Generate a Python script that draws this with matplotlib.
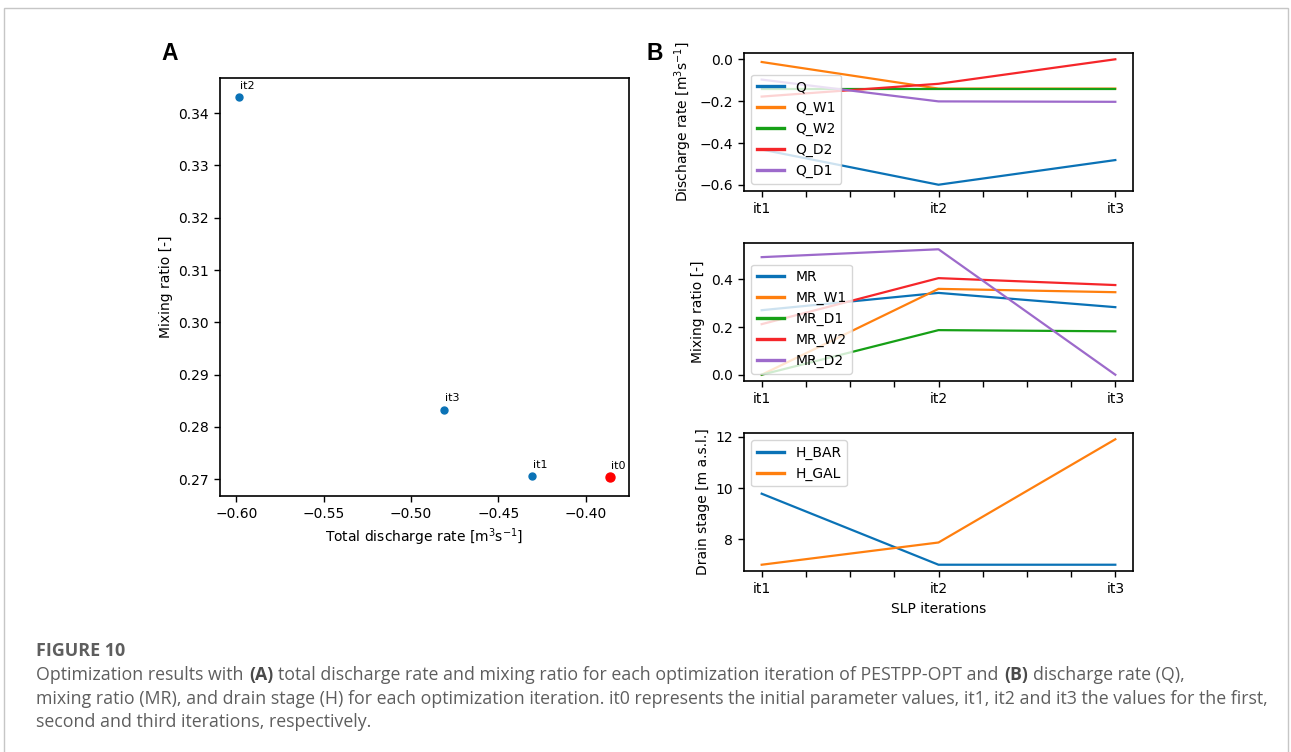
import matplotlib
matplotlib.use("Agg")
import matplotlib.pyplot as plt
from matplotlib.ticker import MultipleLocator
from matplotlib.patches import Rectangle

plt.rcParams['font.family'] = ['DejaVu Sans']
plt.rcParams['font.size'] = 10

# --- data -------------------------------------------------------------
# panel A: total discharge vs mixing ratio per iteration
it_labels = ['it0', 'it1', 'it2', 'it3']
total_q = [-0.3859, -0.4307, -0.5987, -0.4810]
total_mr = [0.2704, 0.2706, 0.3431, 0.2833]

# panel B
iterations = ['it1', 'it2', 'it3']
q_names = ['Q', 'Q_W1', 'Q_W2', 'Q_D2', 'Q_D1']
q_vals = [
    [-0.4307, -0.5987, -0.4810],
    [-0.013, -0.140, -0.140],
    [-0.140, -0.140, -0.140],
    [-0.178, -0.117, 0.000],
    [-0.097, -0.201, -0.203],
]
mr_names = ['MR', 'MR_W1', 'MR_D1', 'MR_W2', 'MR_D2']
mr_vals = [
    [0.2706, 0.3431, 0.2833],
    [0.000, 0.360, 0.346],
    [0.000, 0.187, 0.182],
    [0.212, 0.405, 0.376],
    [0.493, 0.526, 0.000],
]
h_names = ['H_BAR', 'H_GAL']
h_vals = [
    [9.78, 7.00, 7.00],
    [7.00, 7.87, 11.91],
]

colors = ['#0a72b6', '#ff7f0e', '#16a016', '#f5262a', '#9d6acb']

caption_title = 'FIGURE 10'
caption_lines = [
    [('Optimization results with', 'normal'), ('(A)', 'bold'),
     ('total discharge rate and mixing ratio for each optimization iteration of PESTPP-OPT and', 'normal'),
     ('(B)', 'bold'), ('discharge rate (Q),', 'normal')],
    [('mixing ratio (MR), and drain stage (H) for each optimization iteration. it0 represents the '
      'initial parameter values, it1, it2 and it3 the values for the first,', 'normal')],
    [('second and third iterations, respectively.', 'normal')],
]

W, H = 1291, 752
fig = plt.figure(figsize=(W / 100, H / 100), dpi=100)


def px_axes(left, top, right, bottom):
    return fig.add_axes([left / W, 1 - bottom / H, (right - left) / W, (bottom - top) / H])


def style(ax):
    for sp in ax.spines.values():
        sp.set_linewidth(1.2)
    ax.tick_params(width=1.0, length=4.5)


# --- panel A ----------------------------------------------------------
axA = px_axes(220, 78, 629, 496)
axA.scatter(total_q[1:], total_mr[1:], s=25, color=colors[0], zorder=3)
axA.scatter(total_q[:1], total_mr[:1], s=42, color='#ff0000', zorder=3)
for lab, x, y in zip(it_labels, total_q, total_mr):
    axA.annotate(lab, (x, y), xytext=(0.7, 4.5), textcoords='offset points',
                 fontsize=8, ha='left', va='bottom')
axA.set_xticks([-0.60, -0.55, -0.50, -0.45, -0.40])
axA.set_yticks([0.27, 0.28, 0.29, 0.30, 0.31, 0.32, 0.33, 0.34])
axA.set_xlabel('Total discharge rate [m$^3$s$^{-1}$]')
axA.set_ylabel('Mixing ratio [-]')
style(axA)

# --- panel B ----------------------------------------------------------
xs = list(range(len(iterations)))
axQ = px_axes(744, 53, 1133, 191)
axM = px_axes(744, 243, 1133, 381)
axH = px_axes(744, 433, 1133, 571)

for name, vals, c in zip(q_names, q_vals, colors):
    axQ.plot(xs, vals, color=c, lw=1.6, label=name)
for name, vals, c in zip(mr_names, mr_vals, colors):
    axM.plot(xs, vals, color=c, lw=1.6, label=name)
for name, vals, c in zip(h_names, h_vals, colors):
    axH.plot(xs, vals, color=c, lw=1.6, label=name)

axQ.set_ylabel('Discharge rate [m$^3$s$^{-1}$]')
axM.set_ylabel('Mixing ratio [-]')
axH.set_ylabel('Drain stage [m a.s.l.]')
axH.set_xlabel('SLP iterations')
axQ.set_yticks([-0.6, -0.4, -0.2, 0.0])
axM.set_yticks([0.0, 0.2, 0.4])
axH.set_yticks([8, 10, 12])

for ax, loc in ((axQ, 'lower left'), (axM, 'lower left'), (axH, 'upper left')):
    leg = ax.legend(loc=loc)
    for ln in leg.get_lines():
        ln.set_linewidth(2.4)
    ax.set_xticks(xs, iterations)
    ax.xaxis.set_minor_locator(MultipleLocator(0.25))
    style(ax)
    ax.tick_params(which='minor', width=1.0, length=4.5)

# panel letters
fig.text(161 / W, 1 - 59.5 / H, 'A', fontsize=16.5, fontweight='bold',
         family=['Liberation Sans'], ha='left', va='baseline')
fig.text(647 / W, 1 - 59.5 / H, 'B', fontsize=16.5, fontweight='bold',
         family=['Liberation Sans'], ha='left', va='baseline')

# page frame
fig.patches.append(Rectangle((4 / W, -0.02), 1284 / W, 1 - 8 / H + 0.02,
                             transform=fig.transFigure, fill=False,
                             edgecolor='#c6c6c6', linewidth=1.0))

# caption
cap_font = ['Open Sans', 'DejaVu Sans']
cap_size = 12.75
fig.text(36 / W, 1 - 656 / H, caption_title, fontsize=12.9, fontweight='bold',
         family=cap_font, color='#5e5e5e', ha='left', va='baseline')
space_pt = 0.3 * cap_size
for i, pieces in enumerate(caption_lines):
    base = 680 + 23.5 * i
    prev = None
    for txt, weight in pieces:
        if prev is None:
            prev = fig.text(36 / W, 1 - base / H, txt, fontsize=cap_size, fontweight=weight,
                            family=cap_font, color='#5e5e5e', ha='left', va='baseline')
        else:
            prev = axA.annotate(txt, xy=(1, 0), xycoords=prev, xytext=(space_pt, 0),
                                textcoords='offset points', fontsize=cap_size,
                                fontweight=weight, family=cap_font,
                                color='#4a4a4a' if weight == 'bold' else '#5e5e5e',
                                ha='left', va='bottom', annotation_clip=False)

fig.savefig('out.png', dpi=100)
